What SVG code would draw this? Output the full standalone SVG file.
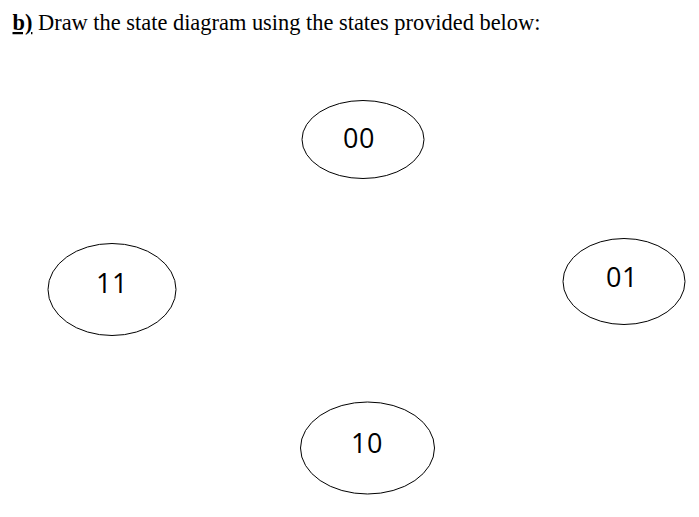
<svg xmlns="http://www.w3.org/2000/svg" width="699" height="517" viewBox="0 0 699 517">
<style>
.st{fill:#fff;stroke:#000;stroke-width:1}
.lb{font-family:"Open Sans","Liberation Sans",Arial,sans-serif;font-size:27px;letter-spacing:0.5px;fill:#000;text-anchor:middle}
.ti{font-family:"Liberation Serif","Times New Roman",serif;font-size:22.4px;fill:#000}
</style>
<rect width="699" height="517" fill="#fff"/>
<text class="ti" x="12.5" y="30"><tspan font-weight="bold" text-decoration="underline">b)</tspan> Draw the state diagram using the states provided below:</text>
<g id="connectors"></g>
<g id="s00"><ellipse class="st" cx="363" cy="139.5" rx="61" ry="39"/><text class="lb" x="359" y="147.5">00</text></g>
<g id="s11"><ellipse class="st" cx="112" cy="289.5" rx="64" ry="46"/><text class="lb" x="112" y="292.5">11</text></g>
<g id="s01"><ellipse class="st" cx="624" cy="281.5" rx="61" ry="43"/><text class="lb" x="622" y="286.5">01</text></g>
<g id="s10"><ellipse class="st" cx="367.5" cy="448" rx="67" ry="46"/><text class="lb" x="367" y="452.5">10</text></g>
</svg>
